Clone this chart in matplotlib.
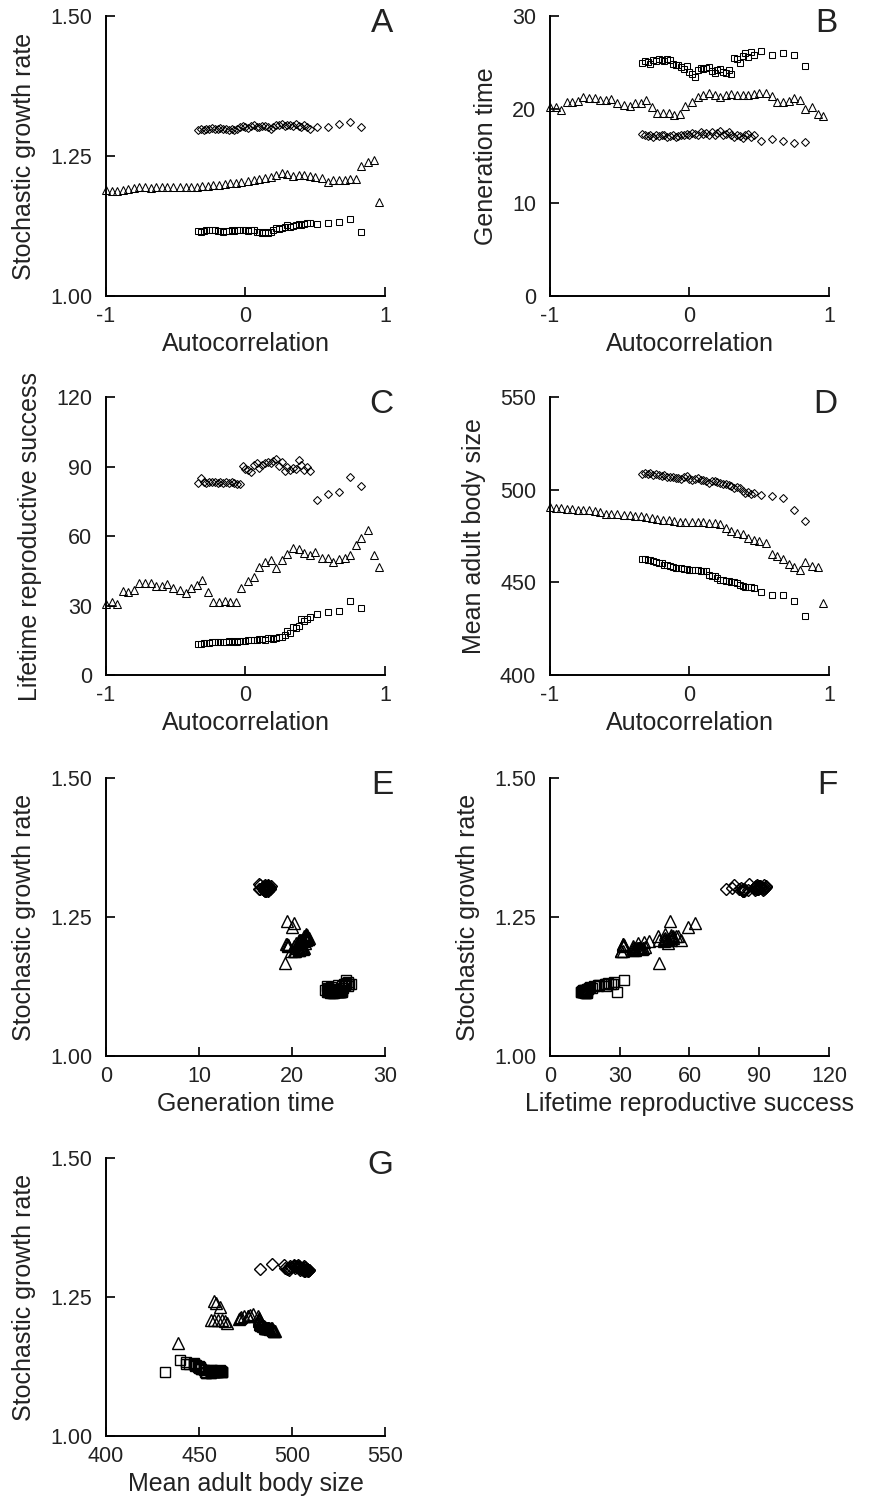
import matplotlib
matplotlib.use('Agg')
import matplotlib.pyplot as plt

# autocorrelation of the environment, triangle series
autocorr_tri = [-1.00, -0.96, -0.92, -0.88, -0.84, -0.80, -0.76, -0.72, -0.68, -0.64,
                -0.60, -0.56, -0.52, -0.47, -0.43, -0.39, -0.35, -0.31, -0.27, -0.23,
                -0.19, -0.15, -0.11, -0.07, -0.03, 0.02, 0.06, 0.10, 0.14, 0.18,
                0.22, 0.26, 0.30, 0.34, 0.38, 0.42, 0.46, 0.50, 0.55, 0.59,
                0.63, 0.67, 0.71, 0.75, 0.79, 0.83, 0.88, 0.92, 0.96]

# autocorrelation shared by square and diamond series
autocorr_sq = [-0.34, -0.32, -0.30, -0.28, -0.26, -0.24, -0.22, -0.20, -0.18, -0.16,
               -0.14, -0.12, -0.10, -0.08, -0.06, -0.04, -0.02, 0.00, 0.02, 0.04,
               0.06, 0.08, 0.10, 0.12, 0.14, 0.16, 0.18, 0.20, 0.22, 0.24,
               0.26, 0.28, 0.30, 0.32, 0.34, 0.36, 0.38, 0.40, 0.42, 0.44,
               0.46, 0.51, 0.59, 0.67, 0.75, 0.83]

# stochastic growth rate
growth_tri = [1.189, 1.188, 1.188, 1.190, 1.191, 1.193, 1.195, 1.194, 1.193, 1.194,
              1.194, 1.194, 1.194, 1.194, 1.194, 1.195, 1.195, 1.196, 1.197, 1.198,
              1.199, 1.200, 1.201, 1.202, 1.203, 1.205, 1.207, 1.209, 1.211, 1.213,
              1.216, 1.219, 1.217, 1.215, 1.216, 1.216, 1.214, 1.212, 1.210, 1.204,
              1.207, 1.208, 1.208, 1.209, 1.209, 1.232, 1.240, 1.242, 1.168]
growth_sq = [1.116, 1.115, 1.116, 1.117, 1.118, 1.117, 1.117, 1.116, 1.116, 1.115,
             1.116, 1.116, 1.117, 1.116, 1.117, 1.117, 1.118, 1.117, 1.116, 1.118,
             1.117, 1.115, 1.114, 1.113, 1.114, 1.113, 1.115, 1.118, 1.121, 1.120,
             1.122, 1.124, 1.126, 1.123, 1.125, 1.127, 1.128, 1.126, 1.129, 1.130,
             1.131, 1.129, 1.130, 1.133, 1.137, 1.115]
growth_dia = [1.296, 1.298, 1.297, 1.299, 1.298, 1.300, 1.299, 1.298, 1.300, 1.299,
              1.298, 1.297, 1.298, 1.297, 1.299, 1.302, 1.304, 1.301, 1.300, 1.303,
              1.305, 1.302, 1.301, 1.303, 1.304, 1.301, 1.299, 1.302, 1.306, 1.305,
              1.307, 1.304, 1.306, 1.305, 1.303, 1.307, 1.304, 1.302, 1.305, 1.301,
              1.299, 1.301, 1.302, 1.308, 1.310, 1.301]

# generation time
gentime_tri = [20.2, 20.3, 19.9, 20.8, 20.8, 20.9, 21.3, 21.2, 21.2, 21.0,
               21.0, 21.1, 20.7, 20.5, 20.4, 20.7, 20.7, 21.0, 20.2, 19.6,
               19.6, 19.6, 19.4, 19.5, 20.4, 20.8, 21.3, 21.5, 21.7, 21.5,
               21.3, 21.5, 21.6, 21.5, 21.5, 21.5, 21.6, 21.8, 21.7, 21.4,
               20.8, 20.8, 20.9, 21.2, 21.0, 20.0, 20.2, 19.5, 19.3]
gentime_sq = [25.0, 25.2, 25.1, 24.9, 25.3, 25.2, 25.4, 25.3, 25.2, 25.4,
              25.3, 24.9, 24.8, 24.7, 24.5, 24.3, 24.6, 24.0, 23.8, 23.5,
              24.2, 24.4, 24.3, 24.4, 24.5, 24.1, 23.9, 24.2, 24.3, 24.0,
              23.9, 24.2, 23.8, 25.5, 25.4, 25.0, 25.7, 26.0, 25.6, 26.1,
              25.8, 26.3, 25.8, 26.0, 25.8, 24.6]
gentime_dia = [17.4, 17.2, 17.1, 17.3, 17.0, 17.2, 17.1, 17.3, 17.2, 17.0,
               17.1, 17.2, 17.0, 17.1, 17.3, 17.2, 17.4, 17.3, 17.5, 17.4,
               17.2, 17.6, 17.4, 17.5, 17.3, 17.6, 17.2, 17.5, 17.7, 17.3,
               17.4, 17.6, 17.2, 17.0, 17.3, 17.1, 16.9, 17.2, 17.4, 17.0,
               17.3, 16.6, 16.8, 16.6, 16.4, 16.5]

# lifetime reproductive success
lrs_tri = [30.5, 31.6, 30.5, 36.4, 35.9, 36.6, 39.8, 39.8, 39.5, 38.4,
           38.4, 39.1, 37.4, 36.6, 35.5, 37.7, 38.8, 41.0, 35.9, 31.3,
           31.3, 31.9, 31.3, 31.3, 37.7, 40.5, 42.4, 46.7, 48.9, 49.6,
           46.4, 49.6, 52.2, 54.9, 54.2, 52.7, 52.0, 52.9, 50.6, 50.6,
           48.9, 49.9, 50.6, 52.0, 56.3, 59.2, 62.5, 51.7, 46.7]
lrs_sq = [13.5, 13.3, 13.6, 13.8, 14.0, 14.1, 14.2, 14.3, 14.2, 14.4,
          14.3, 14.5, 14.4, 14.6, 14.4, 14.7, 14.6, 14.8, 14.9, 15.0,
          15.3, 15.1, 15.4, 15.6, 15.2, 15.8, 16.0, 15.7, 16.1, 16.3,
          16.6, 17.2, 19.0, 18.2, 20.8, 20.5, 21.0, 24.0, 23.5, 24.3,
          25.0, 26.3, 27.3, 27.6, 32.0, 29.0]
lrs_dia = [82.9, 85.2, 83.5, 83.0, 83.2, 83.4, 83.1, 83.0, 83.3, 82.8,
           83.1, 82.9, 83.2, 82.8, 82.5, 82.3, 90.1, 89.0, 88.4, 87.7,
           90.5, 91.5, 89.5, 90.8, 91.3, 92.0, 91.6, 92.3, 93.1, 90.4,
           92.0, 88.1, 89.8, 88.7, 89.4, 88.9, 92.7, 90.5, 88.7, 89.6,
           88.2, 75.7, 78.3, 79.0, 85.5, 81.5]

# mean adult body size
size_tri = [490.7, 490.1, 490.1, 489.8, 489.8, 489.2, 489.2, 488.9, 488.3, 487.8,
            487.1, 487.1, 486.9, 486.5, 486.2, 486.0, 485.6, 485.4, 484.9, 484.2,
            483.8, 483.5, 482.9, 482.6, 482.6, 482.6, 482.4, 482.4, 482.0, 482.0,
            481.5, 479.3, 477.5, 476.6, 476.3, 474.0, 472.7, 472.2, 471.3, 465.3,
            464.1, 462.6, 460.1, 458.3, 456.5, 461.2, 459.0, 458.3, 438.9]
size_sq = [462.6, 462.4, 462.3, 461.8, 461.4, 461.0, 460.5, 460.2, 459.6, 459.2,
           458.8, 458.3, 458.0, 457.8, 457.5, 457.2, 457.0, 456.9, 456.7, 456.5,
           456.4, 456.3, 456.3, 456.2, 453.7, 453.5, 453.3, 452.5, 451.0, 451.0,
           450.8, 450.5, 450.1, 450.0, 449.7, 448.6, 447.9, 447.6, 447.4, 447.4,
           447.2, 444.7, 442.9, 442.9, 439.8, 431.7]
size_dia = [508.4, 509.2, 508.6, 508.9, 508.1, 508.3, 507.8, 507.5, 507.8, 507.0,
            506.8, 507.1, 506.3, 506.5, 506.0, 506.8, 507.2, 506.0, 505.4, 505.9,
            506.3, 505.0, 505.4, 504.8, 503.6, 504.6, 504.5, 503.9, 503.6, 502.8,
            503.2, 502.5, 501.8, 500.9, 501.5, 500.9, 499.5, 498.2, 498.8, 497.9,
            498.2, 497.3, 496.4, 495.5, 489.2, 482.9]

growth_ticks = [1.00, 1.25, 1.50]
gentime_ticks = [0, 10, 20, 30]
lrs_ticks = [0, 30, 60, 90, 120]
size_ticks = [400, 450, 500, 550]
autocorr_ticks = [-1, 0, 1]

# marker, size in top panels, size in scatter panels
styles = {'sq': ('s', 4.8, 7.0), 'tri': ('^', 5.4, 8.6), 'dia': ('D', 4.5, 6.0)}

plt.rcParams['font.family'] = ['Liberation Sans', 'DejaVu Sans']
plt.rcParams['axes.unicode_minus'] = False

FW, FH = 870, 1502
COLS = [106, 550]
ROWS = [(16, 296), (397, 675), (778, 1056), (1158, 1436)]
AXW = 279


def make_axes(fig, row, col):
    top, bot = ROWS[row]
    rect = [COLS[col] / FW, 1 - bot / FH, AXW / FW, (bot - top) / FH]
    ax = fig.add_axes(rect)
    for s in ['top', 'right']:
        ax.spines[s].set_visible(False)
    for s in ['left', 'bottom']:
        ax.spines[s].set_linewidth(1.4)
    ax.tick_params(direction='in', length=6.5, width=1.4, labelsize=15.5, colors='#222222')
    ax.tick_params(axis='y', pad=10)
    ax.tick_params(axis='x', pad=7)
    return ax


def set_axis(ax, which, ticks, fmt, label):
    labels = [fmt.format(t) for t in ticks]
    if which == 'x':
        ax.set_xlim(ticks[0], ticks[-1])
        ax.set_xticks(ticks, labels)
        ax.set_xlabel(label, fontsize=18, labelpad=4, color='#222222')
    else:
        ax.set_ylim(ticks[0], ticks[-1])
        ax.set_yticks(ticks, labels)
        ax.set_ylabel(label, fontsize=18, labelpad=10, color='#222222')


def letter(ax, txt):
    ax.annotate(txt, xy=(1, 1), xycoords='axes fraction', xytext=(6, -11.5),
                textcoords='offset points', ha='right', va='baseline',
                fontsize=24, color='#222222')


def plot_series(ax, series, big=False):
    for key, x, y in series:
        marker, ms_small, ms_big = styles[key]
        ms = ms_big if big else ms_small
        ax.plot(x, y, linestyle='none', marker=marker, ms=ms, mfc='none',
                mec='k', mew=1.0 if big else 0.75, clip_on=False)


def main():
    fig = plt.figure(figsize=(FW / 100, FH / 100), dpi=100)

    top_panels = [
        (0, 0, 'A', growth_sq, growth_tri, growth_dia, growth_ticks, '{:.2f}', 'Stochastic growth rate'),
        (0, 1, 'B', gentime_sq, gentime_tri, gentime_dia, gentime_ticks, '{}', 'Generation time'),
        (1, 0, 'C', lrs_sq, lrs_tri, lrs_dia, lrs_ticks, '{}', 'Lifetime reproductive success'),
        (1, 1, 'D', size_sq, size_tri, size_dia, size_ticks, '{}', 'Mean adult body size'),
    ]
    for row, col, name, ysq, ytri, ydia, ticks, fmt, label in top_panels:
        ax = make_axes(fig, row, col)
        plot_series(ax, [('sq', autocorr_sq, ysq), ('tri', autocorr_tri, ytri),
                         ('dia', autocorr_sq, ydia)])
        set_axis(ax, 'x', autocorr_ticks, '{}', 'Autocorrelation')
        set_axis(ax, 'y', ticks, fmt, label)
        letter(ax, name)

    # growth rate against each life history trait
    trait_panels = [
        (2, 0, 'E', gentime_sq, gentime_tri, gentime_dia, gentime_ticks, 'Generation time'),
        (2, 1, 'F', lrs_sq, lrs_tri, lrs_dia, lrs_ticks, 'Lifetime reproductive success'),
        (3, 0, 'G', size_sq, size_tri, size_dia, size_ticks, 'Mean adult body size'),
    ]
    for row, col, name, xsq, xtri, xdia, ticks, label in trait_panels:
        ax = make_axes(fig, row, col)
        plot_series(ax, [('sq', xsq, growth_sq), ('tri', xtri, growth_tri),
                         ('dia', xdia, growth_dia)], big=True)
        set_axis(ax, 'x', ticks, '{}', label)
        set_axis(ax, 'y', growth_ticks, '{:.2f}', 'Stochastic growth rate')
        letter(ax, name)

    fig.savefig('out.png', dpi=100)


if __name__ == '__main__':
    main()
